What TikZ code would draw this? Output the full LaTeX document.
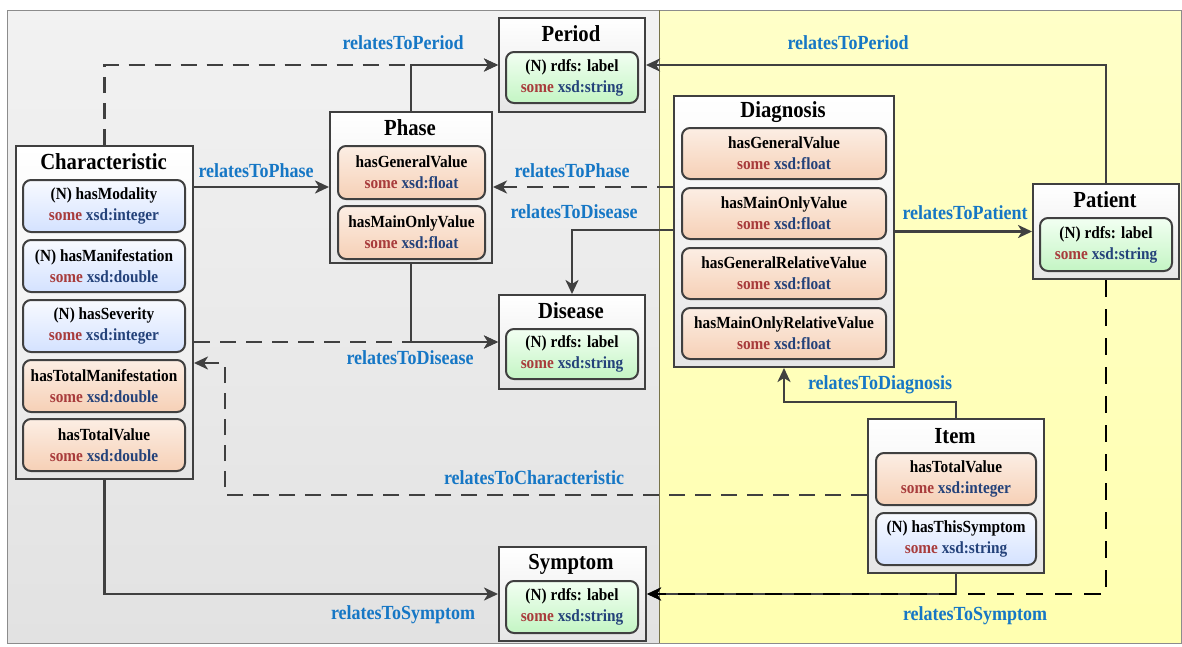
\documentclass[tikz,border=0pt]{standalone}
\usepackage{fontspec}
\setmainfont{Liberation Serif}[FakeStretch=0.9]
\usetikzlibrary{arrows.meta}
\definecolor{somec}{HTML}{A83C3C}
\definecolor{xsdc}{HTML}{24427A}
\definecolor{lblc}{HTML}{1677C5}
\definecolor{edgec}{HTML}{404040}
\newcommand\somew{\textcolor{somec}{some}}
\newcommand\xsdw[1]{\textcolor{xsdc}{xsd:#1}}
\begin{document}
\begin{tikzpicture}[x=1pt,y=-1pt,
  outerbox/.style={draw=edgec, line width=2pt, top color=white, bottom color=black!10, anchor=north west, inner sep=0pt},
  innerbox/.style={draw=edgec, line width=2pt, rounded corners=8pt, anchor=north west, inner sep=0pt, align=center, font=\fontsize{17}{21}\selectfont\bfseries},
  bluebox/.style={innerbox, top color={rgb,255:red,248;green,250;blue,255}, bottom color={rgb,255:red,212;green,226;blue,255}},
  orangebox/.style={innerbox, top color={rgb,255:red,252;green,238;blue,228}, bottom color={rgb,255:red,246;green,208;blue,182}},
  greenbox/.style={innerbox, top color={rgb,255:red,242;green,255;blue,242}, bottom color={rgb,255:red,196;green,245;blue,196}},
  titlef/.style={font=\fontsize{23}{25}\selectfont\bfseries, inner sep=0pt},
  lbl/.style={font=\fontsize{20}{22}\selectfont\bfseries, text=lblc, inner sep=0pt},
  conn/.style={draw=edgec, line width=2.8pt, -{Stealth[length=14pt,width=13pt,inset=4pt]}},
  dconn/.style={conn, dash pattern=on 16pt off 10pt},
  bconn/.style={conn, draw=black, dash pattern=on 17pt off 12pt}]
\useasboundingbox (0,0) rectangle (1182,646);
% backgrounds
\fill[top color={rgb,255:red,242;green,242;blue,242}, bottom color={rgb,255:red,226;green,226;blue,226}] (7,10) rectangle (659,643);
\fill[top color={rgb,255:red,255;green,255;blue,200}, bottom color={rgb,255:red,255;green,255;blue,176}] (659,10) rectangle (1181,643);
\draw[black!45, line width=0.8pt] (7,10) rectangle (1181,643);
\draw[black!35!yellow!60!black, line width=0.8pt] (659,10) -- (659,643);

% Characteristic
\node[outerbox, minimum width=177pt, minimum height=333pt] (char) at (15,145) {};
\node[titlef] (chart) at (103.5,162) {Characteristic};
\node[bluebox, minimum width=162pt, minimum height=52pt] (c1) at (22,179) {(N) hasModality\\\somew{} \xsdw{integer}};
\node[bluebox, minimum width=162pt, minimum height=52pt] (c2) at (22,239) {(N) hasManifestation\\\somew{} \xsdw{double}};
\node[bluebox, minimum width=162pt, minimum height=52pt] (c3) at (22,299) {(N) hasSeverity\\\somew{} \xsdw{integer}};
\node[orangebox, minimum width=162pt, minimum height=52pt] (c4) at (22,359) {hasTotalManifestation\\\somew{} \xsdw{double}};
\node[orangebox, minimum width=162pt, minimum height=52pt] (c5) at (22,418) {hasTotalValue\\\somew{} \xsdw{double}};

% Period
\node[outerbox, minimum width=146pt, minimum height=94pt] (period) at (498,17) {};
\node[titlef] (periodt) at (571,34) {Period};
\node[greenbox, minimum width=132pt, minimum height=51pt] (p1) at (505,51) {(N) rdfs: label\\\somew{} \xsdw{string}};

% Phase
\node[outerbox, minimum width=162pt, minimum height=151pt] (phase) at (329,111) {};
\node[titlef] (phaset) at (410,128) {Phase};
\node[orangebox, minimum width=147pt, minimum height=53pt] (ph1) at (337,145) {hasGeneralValue\\\somew{} \xsdw{float}};
\node[orangebox, minimum width=147pt, minimum height=53pt] (ph2) at (337,205) {hasMainOnlyValue\\\somew{} \xsdw{float}};

% Disease
\node[outerbox, minimum width=146pt, minimum height=94pt] (disease) at (498,294) {};
\node[titlef] (diseaset) at (571,311) {Disease};
\node[greenbox, minimum width=132pt, minimum height=50pt] (d1) at (505,328) {(N) rdfs: label\\\somew{} \xsdw{string}};

% Symptom
\node[outerbox, minimum width=147pt, minimum height=94pt] (symptom) at (498,546) {};
\node[titlef] (symptomt) at (571,564) {Symptom};
\node[greenbox, minimum width=132pt, minimum height=52pt] (s1) at (505,580) {(N) rdfs: label\\\somew{} \xsdw{string}};

% Diagnosis
\node[outerbox, minimum width=220pt, minimum height=271pt] (diag) at (673,95) {};
\node[titlef] (diagt) at (783,112) {Diagnosis};
\node[orangebox, minimum width=204pt, minimum height=51pt] (dg1) at (681,127) {hasGeneralValue\\\somew{} \xsdw{float}};
\node[orangebox, minimum width=204pt, minimum height=51pt] (dg2) at (681,187) {hasMainOnlyValue\\\somew{} \xsdw{float}};
\node[orangebox, minimum width=204pt, minimum height=51pt] (dg3) at (681,247) {hasGeneralRelativeValue\\\somew{} \xsdw{float}};
\node[orangebox, minimum width=204pt, minimum height=51pt] (dg4) at (681,307) {hasMainOnlyRelativeValue\\\somew{} \xsdw{float}};

% Patient
\node[outerbox, minimum width=146pt, minimum height=95pt] (patient) at (1032,183) {};
\node[titlef] (patientt) at (1105,200) {Patient};
\node[greenbox, minimum width=132pt, minimum height=53pt] (pt1) at (1039,217) {(N) rdfs: label\\\somew{} \xsdw{string}};

% Item
\node[outerbox, minimum width=176pt, minimum height=154pt] (item) at (867,418) {};
\node[titlef] (itemt) at (955,436) {Item};
\node[orangebox, minimum width=160pt, minimum height=52pt] (it1) at (875,452) {hasTotalValue\\\somew{} \xsdw{integer}};
\node[bluebox, minimum width=160pt, minimum height=52pt] (it2) at (875,512) {(N) hasThisSymptom\\\somew{} \xsdw{string}};

% connectors
\draw[dconn] (char.north) |- (period.west);
\draw[conn] (phase.north) |- (period.west);
\draw[conn] (char.east |- 0,187) -- (phase.west |- 0,187);
\draw[dconn] (char.east |- disease.west) -- (disease.west);
\draw[conn] (phase.south) |- (disease.west);
\draw[dconn] (diag.west |- 0,187) -- (phase.east |- 0,187);
\draw[conn] (diag.west |- 0,230) -| (disease.north);
\draw[conn] (diag.east |- patient.west) -- (patient.west);
\draw[conn] (patient.north) |- (period.east);
\draw[conn] (item.north) -- ++(0,-16) -| (diag.south);
\coordinate (cturn) at (225,363);
\draw[dconn] (item.west |- 0,495) -| (cturn) -- (char.east |- cturn);
\draw[conn] (char.south) |- (symptom.west);
\draw[conn] (item.south) |- (symptom.east);
\draw[bconn] (patient.south) |- (symptom.east);

% labels
\node[lbl] (l1) at (403,43) {relatesToPeriod};
\node[lbl] (l2) at (848,43) {relatesToPeriod};
\node[lbl] (l3) at (256,171) {relatesToPhase};
\node[lbl] (l4) at (572,171) {relatesToPhase};
\node[lbl] (l5) at (574,212) {relatesToDisease};
\node[lbl] (l6) at (410,358) {relatesToDisease};
\node[lbl] (l7) at (965,213) {relatesToPatient};
\node[lbl] (l8) at (880,385) {relatesToDiagnosis};
\node[lbl] (l9) at (534,478) {relatesToCharacteristic};
\node[lbl] (l10) at (403,615) {relatesToSymptom};
\node[lbl] (l11) at (975,616) {relatesToSymptom};
\end{tikzpicture}
\end{document}
